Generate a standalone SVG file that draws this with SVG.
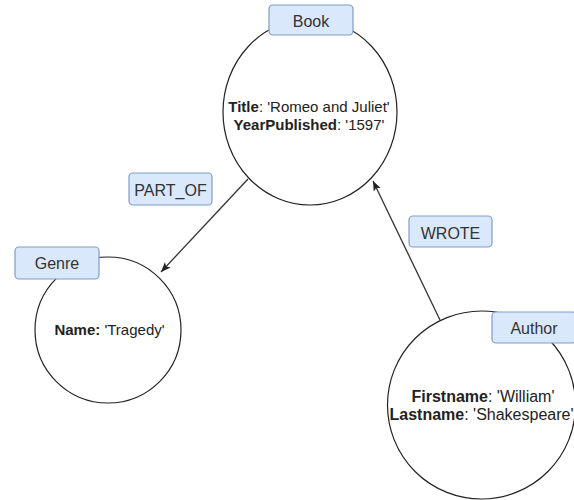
<svg xmlns="http://www.w3.org/2000/svg" width="574" height="500" viewBox="0 0 574 500">
<style>
.circ{fill:#ffffff;stroke:#222222;stroke-width:1.2}
.lbl{fill:#dae8fc;stroke:#7e9cc9;stroke-width:1.2}
.lt{font-family:"Liberation Sans",Arial,sans-serif;font-size:16px;fill:#333333;text-anchor:middle}
.bt{font-family:"Liberation Sans",Arial,sans-serif;font-size:15px;fill:#222222;text-anchor:middle}
.b{font-weight:bold}
.edge{fill:none;stroke:#333333;stroke-width:1.3}
</style>
<defs>
<marker id="arr" viewBox="0 0 10 8" refX="10" refY="4" markerWidth="10" markerHeight="8" markerUnits="userSpaceOnUse" orient="auto">
<path d="M0,0 L10,4 L0,8 L2.5,4 Z" fill="#222222"/>
</marker>
</defs>
<rect width="574" height="500" fill="#ffffff"/>
<g id="connectors">
<line class="edge" x1="248" y1="179" x2="161" y2="272" marker-end="url(#arr)"/>
<line class="edge" x1="440" y1="320" x2="373" y2="181" marker-end="url(#arr)"/>
</g>
<g id="edge-label-part-of">
<rect class="lbl" x="129" y="173" width="83" height="32" rx="4"/>
<text class="lt" x="170.5" y="195.5">PART_OF</text>
</g>
<g id="edge-label-wrote">
<rect class="lbl" x="409" y="216" width="83" height="31" rx="4"/>
<text class="lt" x="450.5" y="238.5">WROTE</text>
</g>
<g id="node-book">
<ellipse class="circ" cx="310" cy="112" rx="87" ry="93"/>
<text class="bt" x="309" y="112"><tspan class="b">Title</tspan>: 'Romeo and Juliet'</text>
<text class="bt" x="309" y="129.5"><tspan class="b">YearPublished</tspan>: '1597'</text>
<rect class="lbl" x="269" y="5" width="84" height="30" rx="4"/>
<text class="lt" x="311" y="26.5">Book</text>
</g>
<g id="node-genre">
<circle class="circ" cx="108" cy="330" r="73"/>
<text class="bt" x="109.5" y="335"><tspan class="b">Name:</tspan> 'Tragedy'</text>
<rect class="lbl" x="15" y="247" width="84" height="32" rx="4"/>
<text class="lt" x="57" y="268.5">Genre</text>
</g>
<g id="node-author">
<circle class="circ" cx="481.5" cy="405" r="94"/>
<text class="bt" style="font-size:16px" x="483" y="401.5"><tspan class="b">Firstname</tspan>: 'William'</text>
<text class="bt" style="font-size:16px" x="481.5" y="420"><tspan class="b">Lastname</tspan>: 'Shakespeare'</text>
<rect class="lbl" x="492" y="312" width="84" height="31" rx="4"/>
<text class="lt" x="534" y="333.5">Author</text>
</g>
</svg>
